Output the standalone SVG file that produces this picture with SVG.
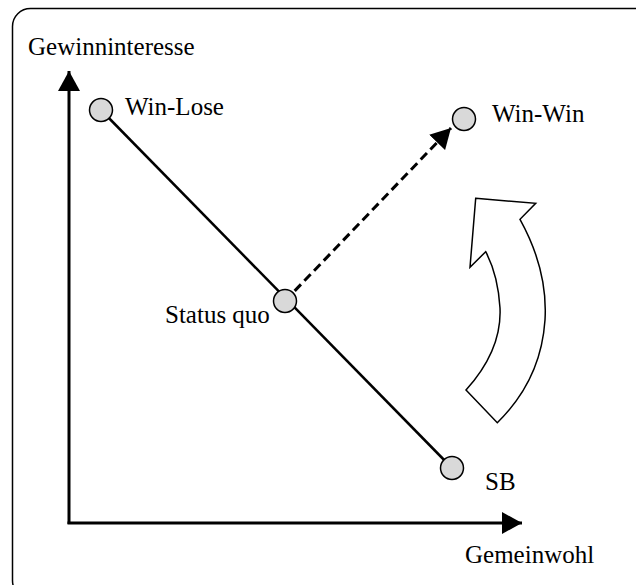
<svg xmlns="http://www.w3.org/2000/svg" width="636" height="585" viewBox="0 0 636 585">
<style>
text{font-family:"Liberation Serif","Times New Roman",serif;font-size:25px;fill:#000}
.node{fill:#d9d9d9;stroke:#000;stroke-width:1.5}
.axis{stroke:#000;stroke-width:3;fill:none}
</style>
<defs>
<marker id="ah" viewBox="0 0 20 22" refX="20" refY="11" markerWidth="20" markerHeight="22" markerUnits="userSpaceOnUse" orient="auto">
<path d="M0,0 L20,11 L0,22 Z" fill="#000"/>
</marker>
</defs>
<rect x="12.5" y="8.5" width="640" height="590" rx="18" fill="#fff" stroke="#000" stroke-width="1.5"/>
<g id="connectors">
<line class="axis" x1="69" y1="524" x2="69" y2="71" marker-end="url(#ah)"/>
<line class="axis" x1="67.5" y1="523" x2="522" y2="523" marker-end="url(#ah)"/>
<line x1="101" y1="110" x2="452" y2="468" stroke="#000" stroke-width="2.5"/>
<line x1="285" y1="301" x2="451" y2="128" stroke="#000" stroke-width="3" stroke-dasharray="9,5" marker-end="url(#ah)"/>
</g>
<g id="axis-y-label"><text x="28" y="55">Gewinninteresse</text></g>
<g id="axis-x-label"><text x="465" y="563">Gemeinwohl</text></g>
<g id="win-lose"><circle class="node" cx="101" cy="110" r="11.5"/><text x="125" y="115">Win-Lose</text></g>
<g id="win-win"><circle class="node" cx="464" cy="119" r="11.5"/><text x="492" y="122">Win-Win</text></g>
<g id="status-quo"><circle class="node" cx="285" cy="301" r="11.5"/><text x="165" y="323">Status quo</text></g>
<g id="sb"><circle class="node" cx="452" cy="468" r="11.5"/><text x="485" y="490">SB</text></g>
<g id="curved-arrow">
<path d="M475.7,198.3 L535.7,203.3 L520,219.3 Q548,270 545,320 Q541,380 497.3,422.7 L466,390 Q502,350 500,308 Q498,275 485.7,251.7 L470,267.3 Z" fill="#fff" stroke="#000" stroke-width="1.5" stroke-linejoin="miter"/>
</g>
</svg>
